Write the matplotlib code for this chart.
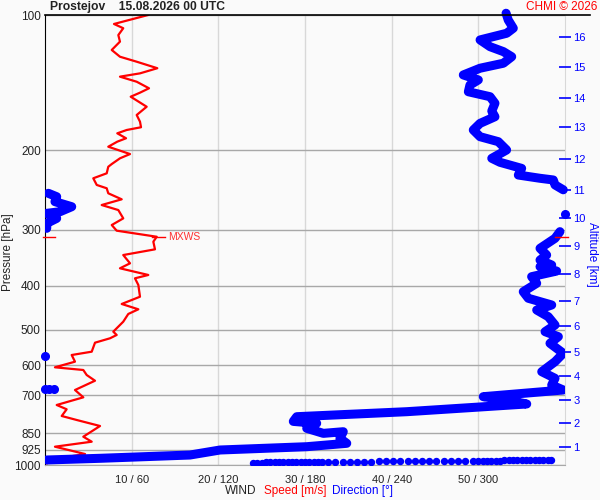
import matplotlib
matplotlib.use('Agg')
import matplotlib.pyplot as plt
from matplotlib.lines import Line2D
from matplotlib.ticker import NullLocator, FixedLocator

plt.rcParams['font.family'] = ['Liberation Sans', 'DejaVu Sans']

# wind speed profile (m/s vs hPa)
speed_ms = [11.9, 7.96, 9.03, 8.46, 8.65, 7.70, 8.65, 10.58, 12.96, 10.96, 8.65, 10.58,
            12.0, 10.96, 9.89, 11.73, 10.58, 10.96, 11.08, 9.43, 8.34, 9.35, 8.34, 7.30,
            9.81, 8.65, 7.70, 7.30, 7.12, 5.57, 5.97, 7.12, 7.30, 8.85, 6.54, 8.46, 9.03,
            7.70, 8.27, 12.89, 12.50, 12.69, 9.03, 9.81, 8.65, 11.92, 10.38, 10.77, 10.96,
            8.85, 10.77, 9.61, 9.03, 7.88, 8.27, 7.50, 5.77, 5.39, 3.08, 3.46, 1.15, 4.42,
            4.81, 5.77, 3.46, 4.42, 1.35, 2.50, 1.93, 3.66, 6.35, 4.42, 5.39, 1.15, 4.62,
            0.38, 0.2]
speed_hpa = [100, 104.7, 107.0, 110.8, 114.6, 119.6, 123.8, 127.0, 131.3, 134.8, 137.1, 140.7,
             145.5, 148.8, 151.9, 159.9, 166.8, 172.6, 177.6, 180.1, 183.2, 187.9, 191.2, 196.2,
             203.7, 208.2, 214.4, 217.4, 224.8, 230.6, 238.6, 242.7, 249.0, 256.8, 264.4, 271.3, 283.1,
             292.9, 301.5, 311.0, 319.0, 331.7, 341.5, 356.3, 365.5, 378.2, 384.7, 398.1, 422.7,
             438.7, 450.8, 461.7, 480.3, 505.5, 514.1, 522.9, 534.8, 560.0, 569.6, 589.4, 606.6, 615.0,
             631.0, 649.7, 681.3, 707.3, 735.6, 751.9, 778.2, 794.3, 819.1, 865.2, 887.6, 910.6, 945.3,
             974.7, 991.3]

# wind direction (deg vs hPa), split where it wraps through north
dir_upper = [319.2, 320.7, 324.2, 319.6, 301.2, 308.1, 317.3, 323.1, 317.3, 301.2, 289.6, 300.0,
             294.2, 293.1, 308.1, 311.5, 309.3, 311.5, 301.2, 296.5, 301.2, 313.8, 319.6, 309.3,
             315.0, 330.0, 327.7, 342.7, 351.9, 353.1, 358.8]
hpa_upper = [99.1, 102.6, 107.0, 109.8, 113.6, 117.6, 120.6, 123.8, 128.0, 131.3, 135.9, 139.4,
             143.1, 148.1, 151.9, 157.1, 163.5, 168.3, 174.1, 180.1, 186.4, 191.2, 199.5, 208.2,
             212.5, 219.2, 226.8, 230.6, 232.6, 238.6, 244.6]
dir_north = [2.3, 8.1, 6.9, 18.5, 10.4, 1.2, 8.1, 1.2, 1.2]
hpa_north = [249.0, 253.4, 259.9, 266.7, 273.6, 275.9, 283.1, 290.4, 297.9]
dir_lower = [356.5, 353.1, 342.7, 347.3, 342.7, 350.8, 342.7, 354.2, 336.9, 340.4, 331.1, 334.6,
             350.8, 340.4, 348.4, 353.1, 346.2, 355.4, 349.6, 358.8, 353.1, 343.9, 353.1, 350.8,
             358.8, 303.4, 319.6, 333.5, 250.4, 174.3, 171.9, 188.1, 181.2, 192.7, 206.5, 204.2,
             208.9, 181.2, 121.2, 100.4, 38.1, 1.2]
hpa_lower = [303.0, 313.5, 330.0, 341.5, 350.4, 359.4, 362.5, 370.7, 381.5, 394.6, 412.0, 426.1,
             441.0, 452.5, 468.2, 488.6, 505.5, 518.6, 536.5, 564.6, 589.4, 620.4, 641.7, 664.1,
             681.3, 705.0, 717.1, 731.8, 761.3, 781.0, 800.0, 808.0, 828.9, 850.5, 843.4, 872.4,
             895.0, 910.6, 926.1, 950.2, 966.3, 974.7]
dir_spots = [360, 0, 0, 3, 6]
hpa_spots = [276.9, 571.6, 677, 679, 678]
dir_ground = [144, 147, 150, 153, 156, 159, 162, 165, 168, 171, 174, 177, 180, 183, 186, 189,
              192, 196, 201, 206, 211, 216, 221, 226, 231, 236, 241, 246, 251, 256, 261, 266,
              271, 276, 281, 286, 291, 296, 300, 303, 306, 309, 312, 315, 318, 321, 324, 327,
              330, 333, 336, 339, 342, 345, 348, 350]
hpa_ground = [988, 988, 988, 987, 987, 987, 987, 986, 986, 986, 986, 985, 985, 985, 985, 985,
              984, 984, 984, 984, 983, 983, 983, 983, 982, 982, 982, 982, 981, 981, 981, 981,
              980, 980, 980, 980, 979, 979, 979, 979, 978, 978, 978, 978, 977, 977, 977, 977,
              976, 976, 976, 976, 975, 975, 975, 975]

mxws_hpa = 311.0
p_ticks = [100, 200, 300, 400, 500, 600, 700, 850, 925, 1000]
ws_ticks = [10, 20, 30, 40, 50]
ws_labels = ['10 / 60', '20 / 120', '30 / 180', '40 / 240', '50 / 300']
alt_km = list(range(1, 17))
alt_hpa = [911, 806.5, 717, 634, 561, 491, 432, 376, 326, 282.6, 244.5, 209, 177.4, 152.7, 130.5, 111.7]

bg = '#fafafa'
fig = plt.figure(figsize=(6, 5), dpi=100, facecolor=bg)
ax = fig.add_axes([45 / 600, 35 / 500, 520 / 600, 450 / 500], facecolor=bg)

ax.set_yscale('log')
ax.set_ylim(1000, 100)
ax.set_xlim(0, 60)
ax.yaxis.set_major_locator(FixedLocator(p_ticks))
ax.yaxis.set_minor_locator(NullLocator())
ax.set_yticklabels([str(p) for p in p_ticks])
ax.set_xticks(ws_ticks)
ax.set_xticklabels(ws_labels)
ax.tick_params(axis='both', length=0, labelsize=8.5, colors='#222222')
ax.tick_params(axis='y', pad=3)
ax.tick_params(axis='x', pad=7, labelsize=8)
ax.set_axisbelow(True)
ax.grid(axis='y', color='#a8a8a8', lw=1)
ax.grid(axis='x', color='#d8d8d8', lw=1)
ax.spines['bottom'].set_color('#a8a8a8')
ax.spines['right'].set_color('#d8d8d8')
ax.spines['left'].set_color('black')
ax.spines['top'].set_visible(False)

# speed
ax.plot(speed_ms, speed_hpa, color='red', lw=1.6, zorder=3)

# direction, on the speed axis scale (360 deg = 60 m/s)
blue_kw = dict(color='blue', lw=6.5, solid_capstyle='round', solid_joinstyle='round', zorder=4)
ax.plot([d / 6 for d in dir_upper], hpa_upper, clip_on=False, **blue_kw)
ax.plot([d / 6 for d in dir_north], hpa_north, **blue_kw)
ax.plot([d / 6 for d in dir_lower], hpa_lower, **blue_kw)
ax.plot([d / 6 for d in dir_spots], hpa_spots, 'o', color='blue', ms=5.5, zorder=4, clip_on=False)
ax.plot([d / 6 for d in dir_ground], hpa_ground, 'o', color='blue', ms=4.3, zorder=4)

# max wind marks
i_max = speed_hpa.index(mxws_hpa)
ax.plot([speed_ms[i_max] - 0.5, speed_ms[i_max] + 1.0], [mxws_hpa, mxws_hpa], color='red', lw=1, zorder=5)
ax.plot([-0.25, 1.2], [mxws_hpa, mxws_hpa], color='red', lw=1, zorder=5, clip_on=False)
ax.plot([58.8, 60.3], [mxws_hpa, mxws_hpa], color='red', lw=1, zorder=5, clip_on=False)
ax.text(speed_ms[i_max] + 1.3, mxws_hpa, 'MXWS', color='#ff3030', fontsize=7.5, va='center')

# altitude axis
ax2 = ax.twinx()
ax2.set_yscale('log')
ax2.set_ylim(1000, 100)
ax2.yaxis.set_major_locator(FixedLocator(alt_hpa))
ax2.yaxis.set_minor_locator(NullLocator())
ax2.set_yticklabels([str(k) for k in alt_km])
ax2.tick_params(axis='y', direction='inout', length=8, width=1.2, color='blue',
                labelcolor='blue', labelsize=8, pad=2)
for s in ax2.spines.values():
    s.set_visible(False)

# frame line along the top
fig.add_artist(Line2D([45 / 600, 590 / 600], [1 - 15 / 500, 1 - 15 / 500], color='black', lw=1.2))

fig.text(50 / 600, 1 - 7 / 500, 'Prostejov    15.08.2026 00 UTC', fontsize=8.7,
         fontweight='bold', color='#222222', va='center', ha='left')
fig.text(597 / 600, 1 - 7 / 500, 'CHMI \u00a9 2026', fontsize=8.5, color='red', va='center', ha='right')
fig.text(8 / 600, 1 - 252 / 500, 'Pressure [hPa]', rotation=90, fontsize=8.5, color='#222222',
         va='center', ha='center')
fig.text(592 / 600, 1 - 254 / 500, 'Altitude [km]', rotation=270, fontsize=8.5, color='blue',
         va='center', ha='center')
fig.text(225 / 600, 1 - 491 / 500, 'WIND', fontsize=8.5, color='#222222', va='center')
fig.text(264 / 600, 1 - 491 / 500, 'Speed [m/s]', fontsize=8.5, color='red', va='center')
fig.text(332 / 600, 1 - 491 / 500, 'Direction [\u00b0]', fontsize=8.5, color='blue', va='center')

fig.savefig('out.png', dpi=100, facecolor=bg)
